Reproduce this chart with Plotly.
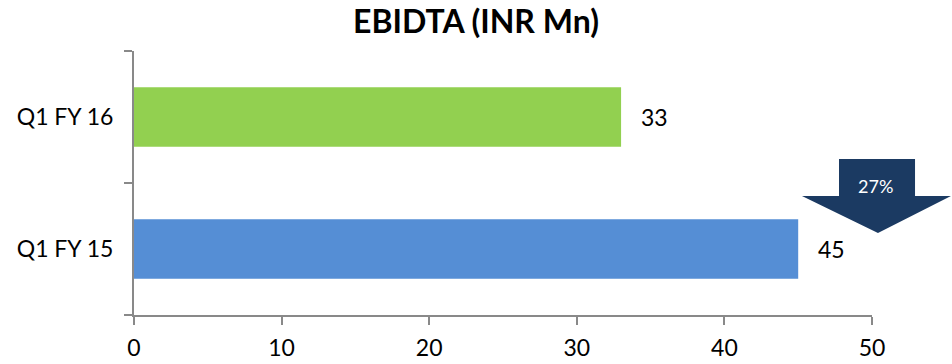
import plotly.graph_objects as go

# EBITDA by quarter (INR Mn)
categories = ["Q1 FY 15", "Q1 FY 16"]
values = [45, 33]
bar_colors = ["#558ED5", "#92D050"]
change_label = "27%"
x_ticks = [0, 10, 20, 30, 40, 50]

FONT = "Lato"
AXIS_COLOR = "#898989"

fig = go.Figure()
fig.add_trace(go.Bar(
    x=values,
    y=categories,
    orientation="h",
    marker=dict(color=bar_colors, line=dict(width=0)),
    width=0.45,
    hoverinfo="skip",
))

# value labels to the right of each bar
for cat, val in zip(categories, values):
    fig.add_annotation(
        x=val, y=cat, xref="x", yref="y",
        text=str(val), showarrow=False,
        xanchor="left", yanchor="middle", xshift=18,
        font=dict(family=FONT, size=23, color="#000000"),
    )

# down-arrow callout with the percentage change
arrow_path = (
    "M 0.9553 0.5909 L 1.0583 0.5909 L 1.0583 0.4508 L 1.1070 0.4508 "
    "L 1.0081 0.3106 L 0.9051 0.4508 L 0.9553 0.4508 Z"
)
fig.add_shape(
    type="path", path=arrow_path, xref="paper", yref="paper",
    fillcolor="#1B3A62", line=dict(width=0), layer="above",
)
fig.add_annotation(
    x=1.0054, y=0.4886, xref="paper", yref="paper",
    text=change_label, showarrow=False,
    xanchor="center", yanchor="middle",
    font=dict(family=FONT, size=18, color="#FFFFFF"),
)

fig.update_layout(
    width=952, height=364,
    margin=dict(l=134, r=80, t=51, b=49, autoexpand=False),
    paper_bgcolor="white", plot_bgcolor="white",
    showlegend=False,
    title=dict(
        text="<b>EBIDTA (INR Mn)</b>",
        x=0.5, xanchor="center", y=0.94, yanchor="middle",
        font=dict(family=FONT, size=32, color="#000000"),
    ),
    xaxis=dict(
        range=[0, 50], tickvals=x_ticks,
        showgrid=False, zeroline=False,
        showline=True, linecolor=AXIS_COLOR, linewidth=2,
        ticks="outside", ticklen=8, tickwidth=2, tickcolor=AXIS_COLOR,
        ticklabelstandoff=3,
        tickfont=dict(family=FONT, size=23, color="#000000"),
        automargin=False,
    ),
    yaxis=dict(
        categoryorder="array", categoryarray=categories,
        range=[-0.5, 1.5],
        showgrid=False, zeroline=False,
        showline=True, linecolor=AXIS_COLOR, linewidth=2,
        ticks="outside", ticklen=8, tickwidth=2, tickcolor=AXIS_COLOR,
        tickson="boundaries",
        ticklabelstandoff=14,
        tickfont=dict(family=FONT, size=23, color="#000000"),
        automargin=False,
    ),
)

fig.write_html("out.html")
